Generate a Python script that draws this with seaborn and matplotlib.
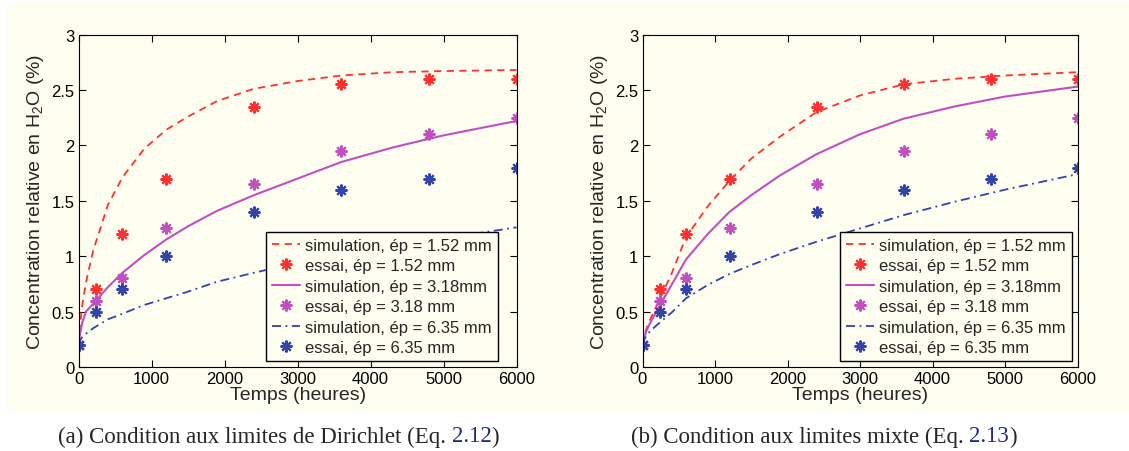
import matplotlib
matplotlib.use('Agg')
import matplotlib.pyplot as plt
import seaborn as sns
from matplotlib.patches import Rectangle

# measured points (hours, %)
t_essai = [0, 240, 600, 1200, 2400, 3600, 4800, 6000]
essai_152 = [0.2, 0.7, 1.2, 1.7, 2.35, 2.55, 2.6, 2.6]
essai_318 = [0.2, 0.6, 0.8, 1.25, 1.65, 1.95, 2.1, 2.25]
essai_635 = [0.2, 0.5, 0.7, 1.0, 1.4, 1.6, 1.7, 1.8]

# simulation curves
t_sim = [0, 20, 50, 100, 200, 400, 600, 900, 1200, 1500, 1900, 2400, 3000, 3600, 4300, 5000, 6000]
dir_152 = [0.2, 0.38, 0.56, 0.76, 1.05, 1.46, 1.71, 1.97, 2.14, 2.26, 2.40, 2.51, 2.58, 2.63, 2.66, 2.67, 2.68]
dir_318 = [0.2, 0.30, 0.40, 0.50, 0.57, 0.72, 0.85, 1.01, 1.15, 1.27, 1.41, 1.55, 1.70, 1.85, 1.98, 2.09, 2.22]
dir_635 = [0.2, 0.24, 0.27, 0.30, 0.35, 0.43, 0.48, 0.56, 0.62, 0.68, 0.77, 0.85, 0.94, 1.01, 1.09, 1.16, 1.26]
mix_152 = [0.2, 0.26, 0.34, 0.42, 0.56, 0.84, 1.17, 1.45, 1.68, 1.88, 2.08, 2.30, 2.45, 2.55, 2.60, 2.63, 2.66]
mix_318 = [0.2, 0.25, 0.32, 0.39, 0.51, 0.74, 0.97, 1.20, 1.40, 1.55, 1.73, 1.92, 2.10, 2.24, 2.35, 2.44, 2.53]
mix_635 = [0.2, 0.24, 0.28, 0.32, 0.38, 0.49, 0.62, 0.74, 0.84, 0.92, 1.02, 1.13, 1.25, 1.37, 1.49, 1.60, 1.74]

panels = [
    (dir_152, dir_318, dir_635, '(a) Condition aux limites de Dirichlet (Eq. ', '2.12'),
    (mix_152, mix_318, mix_635, '(b) Condition aux limites mixte (Eq. ', '2.13'),
]

red = '#ff3030'
mag = '#c050c0'
blue = '#3343a8'
cream = '#fdfdf0'

sns.set_style('ticks')
plt.rcParams['font.family'] = ['Liberation Sans', 'DejaVu Sans']
plt.rcParams['mathtext.fontset'] = 'custom'
plt.rcParams['mathtext.rm'] = 'Liberation Sans'
plt.rcParams['mathtext.it'] = 'Liberation Sans:italic'

fig = plt.figure(figsize=(11.29, 4.52), dpi=100)
fig.patches.append(Rectangle((7 / 1129, 1 - 413 / 452), 1 - 7 / 1129, (413 - 4) / 452,
                             transform=fig.transFigure, facecolor=cream, edgecolor='none', zorder=-10))

axes_pos = [[78.6 / 1129, 1 - 368 / 452, 438 / 1129, 332.5 / 452],
            [642.5 / 1129, 1 - 368 / 452, 435 / 1129, 332.5 / 452]]
legend_anchor = [(0.957, 0.018), (0.987, 0.018)]
caption_x = [58 / 1129, 631 / 1129]

star = (8, 2, 0)


def essai(ax, y, c, lab):
    sns.lineplot(x=t_essai, y=y, ax=ax, color=c, linestyle='', marker=star,
                 markersize=8.5, mew=1.5, mec=c, mfc=c, label=lab)


for i, (s152, s318, s635, cap, eq) in enumerate(panels):
    ax = fig.add_axes(axes_pos[i])
    ax.set_facecolor(cream)
    sns.lineplot(x=t_sim, y=s152, ax=ax, color=red, linestyle=(0, (4, 3)), lw=1.3,
                 label='simulation, ép = 1.52 mm')
    essai(ax, essai_152, red, 'essai, ép = 1.52 mm')
    sns.lineplot(x=t_sim, y=s318, ax=ax, color=mag, lw=1.5, label='simulation, ép = 3.18mm')
    essai(ax, essai_318, mag, 'essai, ép = 3.18 mm')
    sns.lineplot(x=t_sim, y=s635, ax=ax, color=blue, linestyle=(0, (5, 2.5, 1, 2.5)), lw=1.3,
                 label='simulation, ép = 6.35 mm')
    essai(ax, essai_635, blue, 'essai, ép = 6.35 mm')

    ax.set_xlim(0, 6000)
    ax.set_ylim(0, 3)
    ax.set_xticks([0, 1000, 2000, 3000, 4000, 5000, 6000])
    ax.set_yticks([0, 0.5, 1, 1.5, 2, 2.5, 3])
    ax.set_yticklabels(['0', '0.5', '1', '1.5', '2', '2.5', '3'])
    ax.tick_params(direction='in', top=True, right=True, length=5, width=0.8,
                   labelsize=12, pad=3, colors='black')
    for sp in ax.spines.values():
        sp.set_linewidth(0.8)
        sp.set_color('black')
    ax.set_xlabel('Temps (heures)', fontsize=14, labelpad=0)
    ax.set_ylabel('Concentration relative en H$_2$O (%)', fontsize=14, labelpad=4)

    leg = ax.legend(loc='lower right', bbox_to_anchor=legend_anchor[i], fontsize=12,
                    frameon=True, fancybox=False, framealpha=1, edgecolor='black',
                    facecolor=cream, borderpad=0.35, labelspacing=0.33, handlelength=1.7,
                    handletextpad=0.3, borderaxespad=0)
    leg.get_frame().set_linewidth(1.0)

    # caption with coloured equation number
    t1 = fig.text(caption_x[i], 1 - 437 / 452, cap, fontsize=16.5, family='Liberation Serif',
                  va='center', ha='left')
    fig.canvas.draw()
    r = fig.canvas.get_renderer()
    bb = t1.get_window_extent(r)
    t2 = fig.text(bb.x1 / fig.bbox.width, 1 - 437 / 452, eq, fontsize=16.5,
                  family='Liberation Serif', va='center', ha='left', color='#1f2a80')
    bb2 = t2.get_window_extent(r)
    fig.text(bb2.x1 / fig.bbox.width, 1 - 437 / 452, ')', fontsize=16.5,
             family='Liberation Serif', va='center', ha='left')

fig.savefig('out.png', dpi=100, facecolor='white')
